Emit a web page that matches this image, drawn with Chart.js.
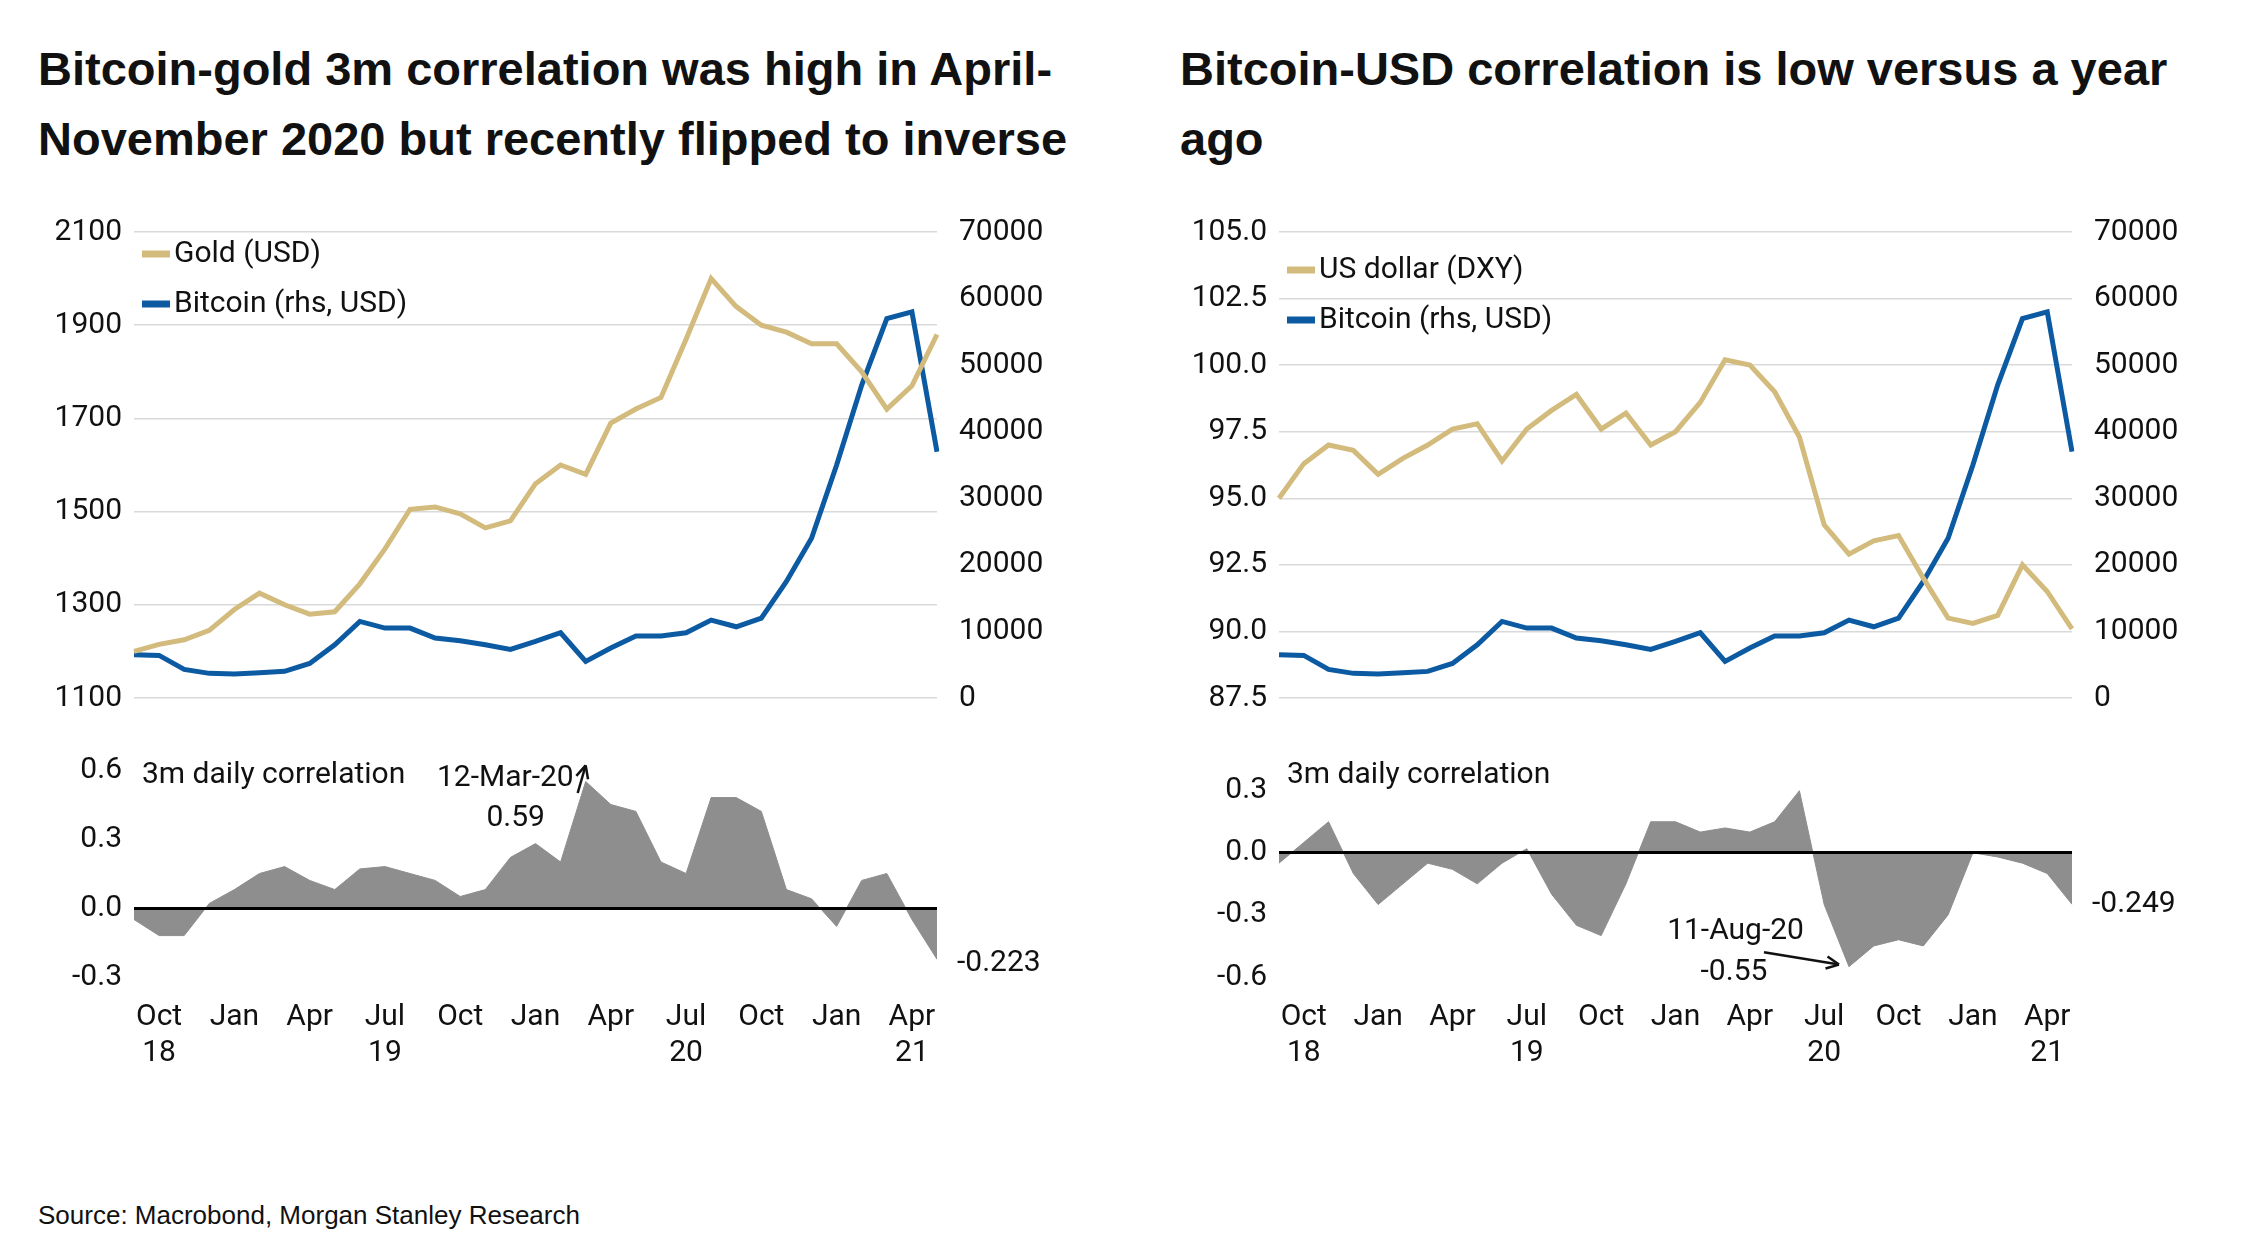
<!DOCTYPE html>
<html><head><meta charset="utf-8">
<script src="https://cdn.jsdelivr.net/npm/chart.js@4/dist/chart.umd.min.js"></script>
<style>
body{margin:0;width:2252px;height:1240px;background:#fff;position:relative;font-family:Roboto,Arial,sans-serif;overflow:hidden}
.t{position:absolute;font:bold 47px "Liberation Sans",Arial,sans-serif;color:#111;line-height:70px}
.c{position:absolute}
#src{position:absolute;left:38px;top:1200px;font:26px "Liberation Sans",Arial,sans-serif;color:#111}
</style></head><body>
<div class="t" style="left:38px;top:34px">Bitcoin-gold 3m correlation was high in April-<br>November 2020 but recently flipped to inverse</div>
<div class="t" style="left:1180px;top:34px">Bitcoin-USD correlation is low versus a year<br>ago</div>
<div class="c" style="left:40px;top:200px;width:1010px;height:530px"><canvas id="goldTop"></canvas></div>
<div class="c" style="left:40px;top:740px;width:1010px;height:360px"><canvas id="goldBot"></canvas></div>
<div class="c" style="left:1175px;top:200px;width:1010px;height:530px"><canvas id="usdTop"></canvas></div>
<div class="c" style="left:1175px;top:740px;width:1010px;height:360px"><canvas id="usdBot"></canvas></div>
<div id="src">Source: Macrobond, Morgan Stanley Research</div>
<script>
// Monthly data, Sep 2018 .. May 2021
const months = ["2018-09","2018-10","2018-11","2018-12",
  "2019-01","2019-02","2019-03","2019-04","2019-05","2019-06","2019-07","2019-08","2019-09","2019-10","2019-11","2019-12",
  "2020-01","2020-02","2020-03","2020-04","2020-05","2020-06","2020-07","2020-08","2020-09","2020-10","2020-11","2020-12",
  "2021-01","2021-02","2021-03","2021-04","2021-05"];
const gold = [1200,1215,1225,1245, 1290,1325,1300,1280,1285,1345,1420,1505,1510,1495,1465,1480,
  1560,1600,1580,1690,1720,1745,1870,2000,1940,1900,1885,1860, 1860,1800,1720,1770,1880];
const bitcoin = [6500,6400,4300,3700, 3600,3800,4000,5200,8000,11500,10500,10500,9000,8600,8000,7300,
  8500,9800,5500,7500,9300,9300,9800,11700,10700,12000,17500,24000, 35000,47000,57000,58000,37000];
const dxy = [95.0,96.3,97.0,96.8, 95.9,96.5,97.0,97.6,97.8,96.4,97.6,98.3,98.9,97.6,98.2,97.0,
  97.5,98.6,100.2,100.0,99.0,97.3,94.0,92.9,93.4,93.6,92.0,90.5, 90.3,90.6,92.5,91.5,90.1];
const corrGold = [-0.05,-0.12,-0.12,0.02, 0.08,0.15,0.18,0.12,0.08,0.17,0.18,0.15,0.12,0.05,0.08,0.22,
  0.28,0.2,0.55,0.45,0.42,0.2,0.15,0.48,0.48,0.42,0.08,0.04, -0.08,0.12,0.15,-0.05,-0.223];
const corrUsd = [-0.05,0.05,0.15,-0.1, -0.25,-0.15,-0.05,-0.08,-0.15,-0.05,0.02,-0.2,-0.35,-0.4,-0.15,0.15,
  0.15,0.1,0.12,0.1,0.15,0.3,-0.25,-0.55,-0.45,-0.42,-0.45,-0.3, 0.0,-0.02,-0.05,-0.1,-0.249];
const monthNames = {"01":"Jan","04":"Apr","07":"Jul","10":"Oct"};
const yearUnder = ["2018-10","2019-07","2020-07","2021-04"];

const GOLD = "#d2bb7c", BLUE = "#0b5aa2", GREY = "#8e8e8e";
const FONT = {family:"Roboto", size:30};
Chart.defaults.color = "#111";

function fixW(w){ return s => { s.width = w; }; }

// draws legend and free text labels
const notes = {
  id:"notes",
  afterDraw(chart, args, o){
    const ctx = chart.ctx, a = chart.chartArea;
    ctx.save();
    ctx.font = "30px Roboto";
    ctx.textBaseline = "middle";
    ctx.fillStyle = "#111";
    (o.legend||[]).forEach((l,i) => {
      const y = a.top + o.legendY + i*50;
      ctx.strokeStyle = l.color; ctx.lineWidth = 7;
      ctx.beginPath(); ctx.moveTo(a.left+8,y); ctx.lineTo(a.left+36,y); ctx.stroke();
      ctx.fillText(l.text, a.left+40, y);
    });
    (o.texts||[]).forEach(t => {
      ctx.textAlign = t.align||"left";
      ctx.fillText(t.text, t.x(chart), t.y(chart));
    });
    (o.arrows||[]).forEach(r => {
      const [x1,y1,x2,y2] = r(chart);
      ctx.strokeStyle="#111"; ctx.lineWidth=2.5;
      ctx.beginPath(); ctx.moveTo(x1,y1); ctx.lineTo(x2,y2); ctx.stroke();
      const ang = Math.atan2(y2-y1,x2-x1);
      ctx.beginPath(); ctx.moveTo(x2,y2);
      ctx.lineTo(x2-14*Math.cos(ang-0.45), y2-14*Math.sin(ang-0.45));
      ctx.moveTo(x2,y2);
      ctx.lineTo(x2-14*Math.cos(ang+0.45), y2-14*Math.sin(ang+0.45));
      ctx.stroke();
    });
    ctx.restore();
  }
};

function topChart(id, leftData, leftLabel, leftOpts, legendY){
  new Chart(document.getElementById(id), {
    type:"line",
    data:{labels:months, datasets:[
      {label:leftLabel, data:leftData, borderColor:GOLD, borderWidth:5, pointRadius:0, yAxisID:"y", tension:0},
      {label:"Bitcoin (rhs, USD)", data:bitcoin, borderColor:BLUE, borderWidth:5, pointRadius:0, yAxisID:"y2", tension:0}
    ]},
    options:{
      animation:false, responsive:true, maintainAspectRatio:false,
      layout:{padding:{top:21,bottom:21}},
      plugins:{legend:{display:false}, tooltip:{enabled:false},
        notes:{legendY:legendY, legend:[{text:leftLabel,color:GOLD},{text:"Bitcoin (rhs, USD)",color:BLUE}]}},
      scales:{
        x:{display:false, offset:false},
        y:Object.assign({position:"left", afterFit:fixW(leftOpts.w),
          border:{display:false}, grid:{color:"#d9d9d9", lineWidth:1.5, drawTicks:false},
          ticks:{font:FONT, padding:12, stepSize:leftOpts.step, callback:leftOpts.fmt}}, leftOpts.range),
        y2:{position:"right", min:0, max:70000, afterFit:fixW(113),
          border:{display:false}, grid:{display:false},
          ticks:{font:FONT, padding:14, stepSize:10000, callback:v=>String(v)}}
      }
    },
    plugins:[notes]
  });
}

function botChart(id, data, range, ticks, extra){
  new Chart(document.getElementById(id), {
    type:"line",
    data:{labels:months, datasets:[
      {data:data, borderColor:GREY, borderWidth:1, backgroundColor:GREY, fill:"origin", pointRadius:0, tension:0}
    ]},
    options:{
      animation:false, responsive:true, maintainAspectRatio:false,
      layout:{padding:{top:23}},
      plugins:{legend:{display:false}, tooltip:{enabled:false}, notes:extra},
      scales:{
        x:{offset:false, afterFit:s=>{s.height=123;}, grid:{display:false}, border:{display:false},
          ticks:{font:FONT, autoSkip:false, maxRotation:0, padding:14, lineHeight:1.1,
            callback:function(v){
              const m = months[v], mm = m.slice(5), yy = m.slice(2,4);
              if(!monthNames[mm]) return null;
              return yearUnder.includes(m) ? [monthNames[mm], yy] : monthNames[mm];
            }}},
        y:{position:"left", min:range[0], max:range[1], afterFit:fixW(range[2]),
          afterBuildTicks:s=>{s.ticks = ticks.map(v=>({value:v}));},
          border:{display:false},
          grid:{drawTicks:false, color:c=>c.tick && c.tick.value===0 ? "#000" : "rgba(0,0,0,0)", lineWidth:3, z:1},
          ticks:{font:FONT, padding:12, callback:v=>v.toFixed(1)}},
        y2:{position:"right", display:true, afterFit:fixW(113), grid:{display:false}, border:{display:false}, ticks:{display:false}}
      }
    },
    plugins:[notes]
  });
}

topChart("goldTop", gold, "Gold (USD)", {w:94, step:200, range:{min:1100,max:2100}, fmt:v=>v}, 22);
topChart("usdTop", dxy, "US dollar (DXY)", {w:104, step:2.5, range:{min:87.5,max:105}, fmt:v=>v.toFixed(1)}, 38);

const X = (ch,i) => ch.scales.x.getPixelForValue(i);
const Y = (ch,v) => ch.scales.y.getPixelForValue(v);

botChart("goldBot", corrGold, [-0.3,0.6,94], [-0.3,0,0.3,0.6], {
  texts:[
    {text:"3m daily correlation", x:c=>c.chartArea.left+8, y:c=>Y(c,0.6)+5},
    {text:"12-Mar-20", x:c=>X(c,18)-12, y:c=>Y(c,0.6)+8, align:"right"},
    {text:"0.59", x:c=>X(c,18)-70, y:c=>Y(c,0.6)+48, align:"center"},
    {text:"-0.223", x:c=>c.chartArea.right+20, y:c=>Y(c,-0.24)}
  ],
  arrows:[c=>[X(c,18)-8, Y(c,0.5), X(c,18), Y(c,0.62)]]
});
botChart("usdBot", corrUsd, [-0.6,0.4,104], [-0.6,-0.3,0,0.3], {
  texts:[
    {text:"3m daily correlation", x:c=>c.chartArea.left+8, y:c=>Y(c,0.4)+5},
    {text:"11-Aug-20", x:c=>X(c,23)-45, y:c=>Y(c,-0.38), align:"right"},
    {text:"-0.55", x:c=>X(c,23)-115, y:c=>Y(c,-0.58), align:"center"},
    {text:"-0.249", x:c=>c.chartArea.right+20, y:c=>Y(c,-0.25)}
  ],
  arrows:[c=>[X(c,23)-85, Y(c,-0.48), X(c,23)-10, Y(c,-0.54)]]
});
</script>
</body></html>
